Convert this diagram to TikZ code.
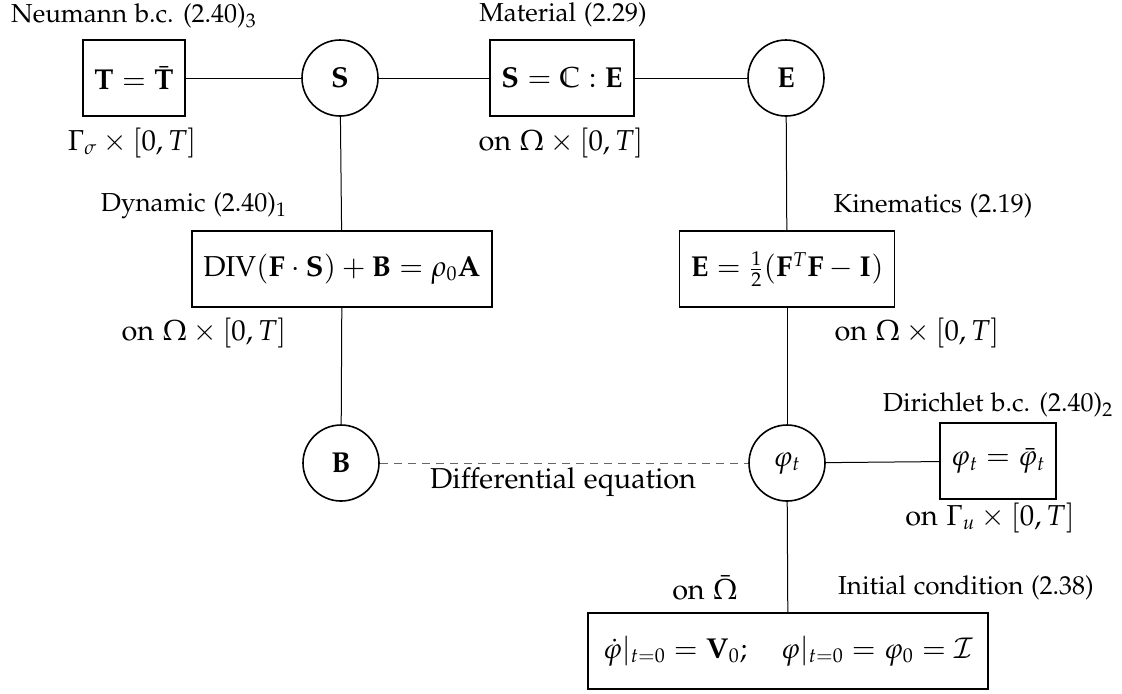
\documentclass[tikz,border=0pt]{standalone}
\usepackage[T1]{fontenc}
\usepackage[sc]{mathpazo}
\usepackage{amsmath}
\usepackage{xcolor}
\newcommand{\mainsize}{\fontsize{14.4}{17}\selectfont}
\newcommand{\labsize}{\fontsize{13}{15.5}\selectfont}

\begin{document}
\begin{tikzpicture}[x=0.5pt, y=-0.5pt,
  var/.style={circle, draw, line width=0.8pt, minimum size=38pt, inner sep=0pt, font=\mainsize},
  eqn/.style={rectangle, draw, line width=0.9pt, minimum height=38pt, inner xsep=5.5pt, font=\mainsize},
  lbl/.style={inner sep=0pt, font=\labsize},
  dom/.style={inner sep=0pt, font=\mainsize},
  link/.style={line width=0.5pt, draw=black},
  weak/.style={link, dash pattern=on 4pt off 3pt, draw=black!60}
]
\useasboundingbox (0,0) rectangle (1122,693);
% variables
\node[var] (sS) at (340,78) {$\mathbf{S}$};
\node[var] (sE) at (786,78) {$\mathbf{E}$};
\node[var] (sB) at (341,463) {$\mathbf{B}$};
\node[var] (sphi) at (787,463) {$\varphi_t$};
% equations
\node[eqn] (neu) at (134,78) {$\mathbf{T}=\bar{\mathbf{T}}$};
\node[eqn] (mat) at (562,78) {$\mathbf{S}=\mathbb{C}:\mathbf{E}$};
\node[eqn] (dyn) at (342,269) {$\mathrm{DIV}(\mathbf{F}\cdot\mathbf{S})+\mathbf{B}=\rho_0\mathbf{A}$};
\node[eqn] (kin) at (787,269) {$\mathbf{E}=\frac{1}{2}(\mathbf{F}^T\mathbf{F}-\mathbf{I})$};
\node[eqn] (dir) at (998,461) {$\varphi_t=\bar{\varphi}_t$};
\node[eqn, minimum width=200pt] (ini) at (788,651) {$\dot{\varphi}|_{t=0}=\mathbf{V}_0;\quad \varphi|_{t=0}=\varphi_0=\mathcal{I}$};
% labels
\node[lbl] (lneu) at (134,16) {Neumann b.c. (2.40)$_3$};
\node[lbl] (lmat) at (563,15) {Material (2.29)};
\node[lbl] (ldyn) at (194,206) {Dynamic (2.40)$_1$};
\node[lbl] (lkin) at (933,206) {Kinematics (2.19)};
\node[lbl] (ldir) at (998,405) {Dirichlet b.c. (2.40)$_2$};
\node[lbl] (lini) at (966,588) {Initial condition (2.38)};
% domains
\node[dom] (dneu) at (132,143) {$\Gamma_\sigma\times[0,T]$};
\node[dom] (dmat) at (561,143) {on $\Omega\times[0,T]$};
\node[dom] (ddyn) at (204,333) {on $\Omega\times[0,T]$};
\node[dom] (dkin) at (917,333) {on $\Omega\times[0,T]$};
\node[dom] (ddir) at (990,518) {on $\Gamma_u\times[0,T]$};
\node[dom] (dini) at (705,588) {on $\bar{\Omega}$};
\node[dom] (dode) at (563,482) {Differential equation};
% connections
\draw[link] (neu) -- (sS);
\draw[link] (sS) -- (mat);
\draw[link] (mat) -- (sE);
\draw[link] (sS) -- (dyn);
\draw[link] (dyn) -- (sB);
\draw[link] (sE) -- (kin);
\draw[link] (kin) -- (sphi);
\draw[link] (sphi) -- (dir);
\draw[link] (sphi) -- (ini);
\draw[weak] (sB) -- (sphi);
\end{tikzpicture}
\end{document}
